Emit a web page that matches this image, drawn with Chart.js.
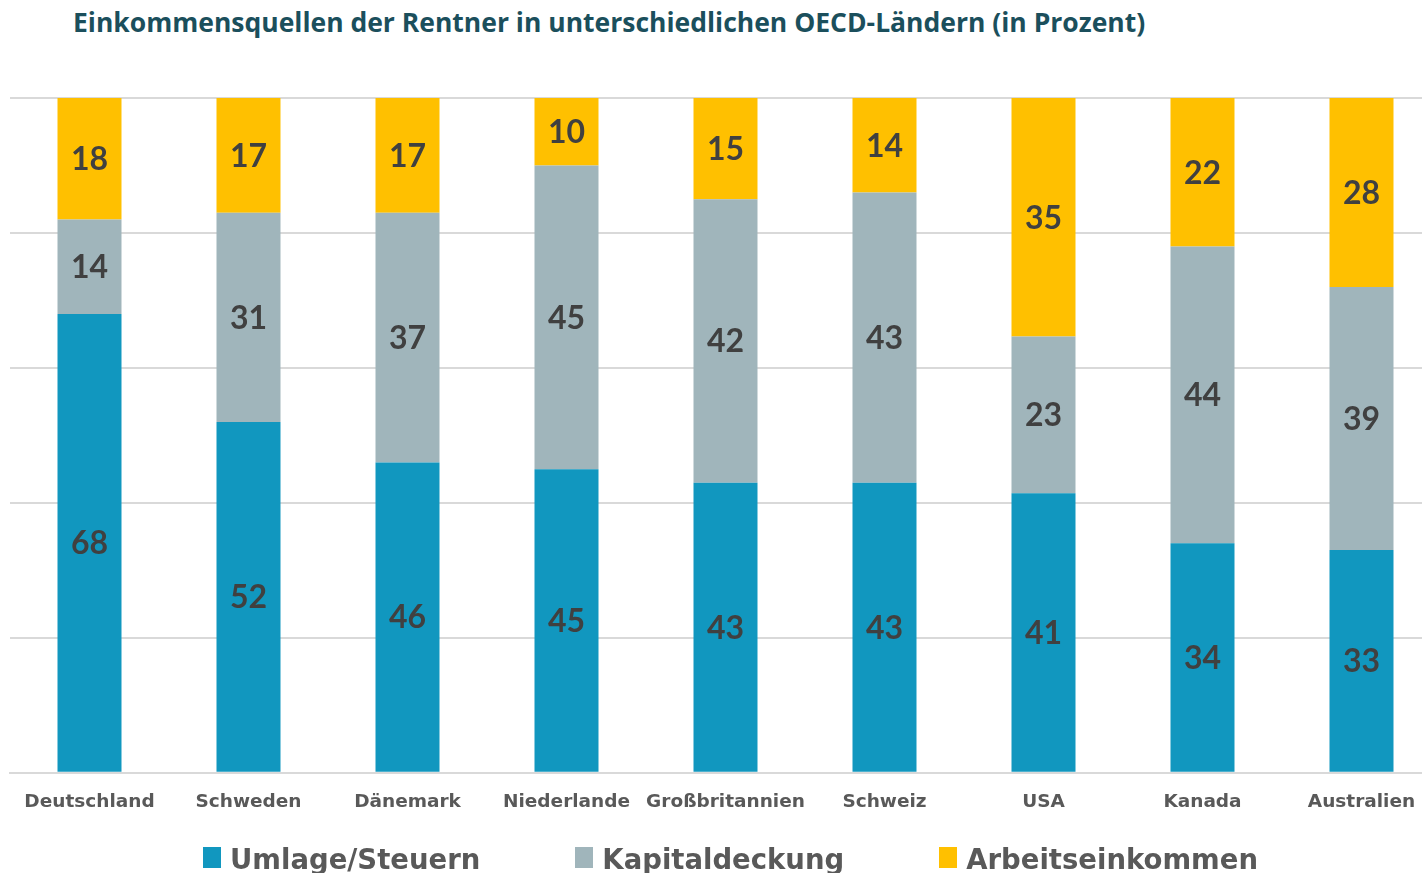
<!DOCTYPE html>
<html>
<head>
<meta charset="utf-8">
<script src="https://cdn.jsdelivr.net/npm/chart.js@4"></script>
<style>
  body { margin: 0; width: 1422px; height: 873px; overflow: hidden; position: relative; background: #fff; }
  #titel { position: absolute; left: 73px; top: 7px; font: 700 26.5px/30px 'Open Sans', sans-serif; color: #1B4F5C; white-space: nowrap; }
  #wrap { position: absolute; left: 0; top: 0; width: 1441px; height: 873px; }
  #legende { position: absolute; left: 203px; top: 842px; display: flex; font: 700 27.5px/34px 'DejaVu Sans', sans-serif; color: #595959; white-space: nowrap; }
  .item { display: flex; align-items: flex-start; margin-right: 95px; }
  .box { width: 18px; height: 21px; margin-top: 5px; margin-right: 9px; }
</style>
</head>
<body>
<div id="titel">Einkommensquellen der Rentner in unterschiedlichen OECD-Ländern (in Prozent)</div>
<div id="wrap"><canvas id="chart"></canvas></div>
<div id="legende"></div>
<script>
// Daten (Werte in Prozent)
var laender = ['Deutschland', 'Schweden', 'Dänemark', 'Niederlande', 'Großbritannien', 'Schweiz', 'USA', 'Kanada', 'Australien'];
var umlage = [68, 52, 46, 45, 43, 43, 41, 34, 33];
var kapital = [14, 31, 37, 45, 42, 43, 23, 44, 39];
var arbeit = [18, 17, 17, 10, 15, 14, 35, 22, 28];
var reihen = ['Umlage/Steuern', 'Kapitaldeckung', 'Arbeitseinkommen'];
var farben = ['#1197BF', '#A0B5BB', '#FFC000'];

var werte = [umlage, kapital, arbeit];

// 100%-gestapelt: Anteile je Land
var summen = laender.map(function (l, i) { return umlage[i] + kapital[i] + arbeit[i]; });
function anteile(reihe) {
    return reihe.map(function (v, i) { return v / summen[i] * 100; });
}

var datasets = werte.map(function (reihe, k) {
    return {
        label: reihen[k],
        data: anteile(reihe),
        werte: reihe,
        backgroundColor: farben[k],
        borderWidth: 0,
        barPercentage: 0.4025,
        categoryPercentage: 1
    };
});

// Werte in die Mitte der Segmente schreiben
var wertLabels = {
    id: 'wertLabels',
    afterDatasetsDraw: function (chart) {
        var ctx = chart.ctx;
        ctx.save();
        ctx.font = 'bold 32px Lato, sans-serif';
        ctx.fillStyle = '#404040';
        ctx.textAlign = 'center';
        ctx.textBaseline = 'middle';
        chart.data.datasets.forEach(function (ds, d) {
            chart.getDatasetMeta(d).data.forEach(function (bar, i) {
                var p = bar.getProps(['x', 'y', 'base'], true);
                ctx.fillText(ds.werte[i], p.x, (p.y + p.base) / 2 + 1);
            });
        });
        ctx.restore();
    }
};

var ctx = document.getElementById('chart').getContext('2d');
new Chart(ctx, {
    type: 'bar',
    data: { labels: laender, datasets: datasets },
    options: {
        responsive: true,
        maintainAspectRatio: false,
        animation: false,
        layout: { padding: { top: 98, left: 10, right: 0, bottom: 42 } },
        plugins: {
            legend: { display: false },
            tooltip: { enabled: false }
        },
        scales: {
            x: {
                stacked: true,
                grid: { display: false, drawTicks: false },
                border: { color: '#D9D9D9', width: 2 },
                ticks: {
                    padding: 18,
                    autoSkip: false,
                    maxRotation: 0,
                    minRotation: 0,
                    color: '#595959',
                    font: { family: 'DejaVu Sans', size: 18.5, weight: 'bold' }
                }
            },
            y: {
                stacked: true,
                min: 0,
                max: 100,
                ticks: { display: false, stepSize: 20 },
                grid: { color: '#D9D9D9', lineWidth: 2, drawTicks: false },
                border: { display: false }
            }
        }
    },
    plugins: [wertLabels]
});

// Legende
var leg = document.getElementById('legende');
reihen.forEach(function (name, k) {
    var it = document.createElement('div');
    it.className = 'item';
    if (k === reihen.length - 1) it.style.marginRight = '0';
    var b = document.createElement('div');
    b.className = 'box';
    b.style.background = farben[k];
    var t = document.createElement('span');
    t.textContent = name;
    it.appendChild(b);
    it.appendChild(t);
    leg.appendChild(it);
});
</script>
</body>
</html>
